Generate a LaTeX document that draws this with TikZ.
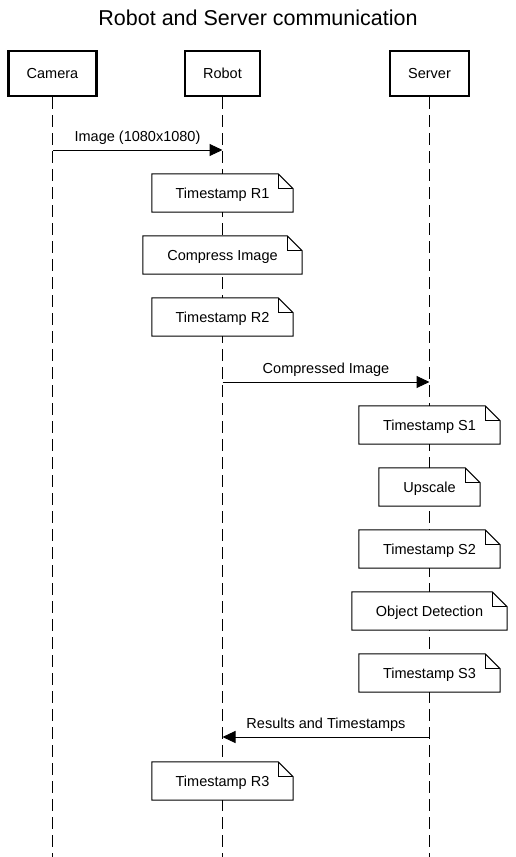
\documentclass[tikz,border=0pt]{standalone}
\usepackage{fontspec}
\setmainfont{Liberation Sans}
\usetikzlibrary{positioning,arrows.meta}

\begin{document}
\begin{tikzpicture}[
    x = 1pt, y = -1pt,
    every node/.style = {
      font = \fontsize{14.5}{17}\selectfont,
      text height = 10.5pt, text depth = 0pt
    },
    actor/.style = {
      draw, line width = 2.5pt,
      minimum height = 45pt,
      inner xsep = 18pt
    },
    lifeline/.style = {line width = 1pt, dash pattern = on 12pt off 6pt},
    msg/.style = {line width = 1pt, -{Triangle[length = 13pt, width = 12pt]}},
    msglabel/.style = {above = 4.5pt},
    note/.style = {
      fill = white,
      minimum height = 38pt
    }
  ]
  \useasboundingbox (0,0) rectangle (515,857);

  % Title
  \node[font = \fontsize{21.5}{26}\selectfont, text height = 15.5pt] (title) at (258,18) {Robot and Server communication};

  % The three actors
  \node[actor] (camera) at (52.5,73.5)  {Camera};
  \node[actor] (robot)  at (222.5,73.5) {Robot};
  \node[actor] (server) at (429.5,73.5) {Server};

  % The lifelines
  \coordinate (camera-end) at (52.5,857);
  \coordinate (robot-end)  at (222.5,857);
  \coordinate (server-end) at (429.5,857);
  \draw[lifeline] (camera.south) -- (camera-end);
  \draw[lifeline] (robot.south)  -- (robot-end);
  \draw[lifeline] (server.south) -- (server-end);

  % The messages
  \coordinate (img-cam)  at (52.5,150);
  \coordinate (img-rob)  at (222.5,150);
  \coordinate (cmp-rob)  at (222.5,382);
  \coordinate (cmp-srv)  at (429.5,382);
  \coordinate (res-srv)  at (429.5,737);
  \coordinate (res-rob)  at (222.5,737);
  \draw[msg] (img-cam) -- node[msglabel] {Image (1080x1080)} (img-rob);
  \draw[msg] (cmp-rob) -- node[msglabel] {Compressed Image} (cmp-srv);
  \draw[msg] (res-srv) -- node[msglabel] {Results and Timestamps} (res-rob);

  % The notes
  \node[note, minimum width = 141pt] (tsR1) at (222.5,193) {Timestamp R1};
  \node[note, minimum width = 159pt] (cmpR) at (222.5,255) {Compress Image};
  \node[note, minimum width = 141pt] (tsR2) at (222.5,317) {Timestamp R2};
  \node[note, minimum width = 141pt] (tsS1) at (429.5,425) {Timestamp S1};
  \node[note, minimum width = 101pt] (upS)  at (429.5,487) {Upscale};
  \node[note, minimum width = 141pt] (tsS2) at (429.5,549) {Timestamp S2};
  \node[note, minimum width = 155pt] (odS)  at (429.5,611) {Object Detection};
  \node[note, minimum width = 141pt] (tsS3) at (429.5,673) {Timestamp S3};
  \node[note, minimum width = 141pt] (tsR3) at (222.5,781) {Timestamp R3};

  % Outline and folded corner of each note
  \foreach \n in {tsR1, cmpR, tsR2, tsS1, upS, tsS2, odS, tsS3, tsR3} {
    \draw[line width = 1pt]
      (\n.south west) -- (\n.north west) -- ([xshift = -15pt]\n.north east)
      -- ([yshift = -15pt]\n.north east) -- (\n.south east) -- cycle;
    \draw[line width = 1pt]
      ([xshift = -15pt]\n.north east) |- ([yshift = -15pt]\n.north east);
  }
\end{tikzpicture}
\end{document}
